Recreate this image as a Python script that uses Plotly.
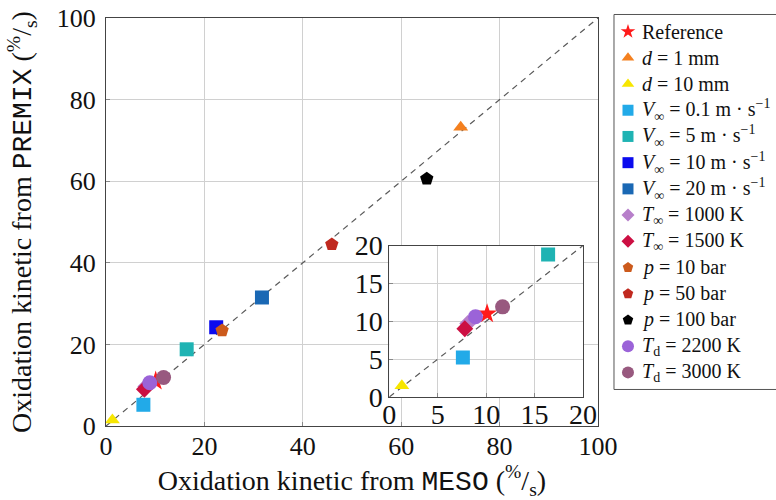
import plotly.graph_objects as go

# ---------------- data ----------------
series_names = [
    "Reference",
    "<i>d</i> = 1 mm",
    "<i>d</i> = 10 mm",
    "<i>V</i><sub>∞</sub> = 0.1 m · s<sup>−1</sup>",
    "<i>V</i><sub>∞</sub> = 5 m · s<sup>−1</sup>",
    "<i>V</i><sub>∞</sub> = 10 m · s<sup>−1</sup>",
    "<i>V</i><sub>∞</sub> = 20 m · s<sup>−1</sup>",
    "<i>T</i><sub>∞</sub> = 1000 K",
    "<i>T</i><sub>∞</sub> = 1500 K",
    "<i>p</i> = 10 bar",
    "<i>p</i> = 50 bar",
    "<i>p</i> = 100 bar",
    "<i>T</i><sub>d</sub> = 2200 K",
    "<i>T</i><sub>d</sub> = 3000 K",
]
meso_values = [10.1, 72.1, 1.3, 7.6, 16.4, 22.4, 31.7, 8.1, 7.8, 23.6, 45.9, 65.2, 8.9, 11.7]
premix_values = [11.0, 73.2, 1.5, 5.2, 18.8, 24.2, 31.5, 9.7, 9.0, 23.4, 44.5, 60.6, 10.6, 11.9]

symbols = ["star", "triangle-up", "triangle-up", "square", "square", "square", "square",
           "diamond", "diamond", "pentagon", "pentagon", "pentagon", "circle", "circle"]
colors = ["#ff1a1a", "#f4801f", "#f7e600", "#22aae8", "#1fb3b3", "#0b0bee", "#1a68b4",
          "#b77fca", "#cc0f42", "#cc5a1c", "#c0291f", "#000000", "#9b63d8", "#98597f"]
plot_sizes = [15, 13, 13, 14, 14, 14, 14, 13, 13, 14, 14, 14, 15, 15]
legend_sizes = [11, 11, 11, 11, 11, 11, 11, 10, 10, 11, 11, 11, 12, 12]

diag_main = [0, 100]
diag_inset = [0, 20]
main_ticks = [0, 20, 40, 60, 80, 100]
inset_ticks = [0, 5, 10, 15, 20]

x_title = ("Oxidation kinetic from <span style='font-family:Liberation Mono'>MESO</span> "
           "(<sup>%</sup>/<sub>s</sub>)")
y_title = ("Oxidation kinetic from <span style='font-family:Liberation Mono'>PREMIX</span> "
           "(<sup>%</sup>/<sub>s</sub>)")

SERIF = "Liberation Serif"
legend_rows = list(range(len(series_names)))

fig = go.Figure()

# diagonal lines
fig.add_trace(go.Scatter(x=diag_main, y=diag_main, mode="lines", showlegend=False,
                         line=dict(color="#5a5a5a", width=1.2, dash="6px,5px"),
                         xaxis="x", yaxis="y", hoverinfo="skip"))
fig.add_trace(go.Scatter(x=diag_inset, y=diag_inset, mode="lines", showlegend=False,
                         line=dict(color="#5a5a5a", width=1.2, dash="6px,5px"),
                         xaxis="x2", yaxis="y2", hoverinfo="skip"))

for i, name in enumerate(series_names):
    mk = dict(symbol=symbols[i], color=colors[i], size=plot_sizes[i], opacity=1,
              line=dict(width=0))
    fig.add_trace(go.Scatter(x=[meso_values[i]], y=[premix_values[i]], mode="markers",
                             marker=mk, name=name, showlegend=False, xaxis="x", yaxis="y"))
    fig.add_trace(go.Scatter(x=[meso_values[i]], y=[premix_values[i]], mode="markers",
                             marker=mk, name=name, showlegend=False, xaxis="x2", yaxis="y2"))

# legend (custom, on a hidden axis: one row per series)
fig.add_trace(go.Scatter(x=[14] * len(legend_rows), y=legend_rows, mode="markers",
                         marker=dict(symbol=symbols, color=colors, size=legend_sizes,
                                     opacity=1, line=dict(width=0)),
                         showlegend=False, xaxis="x3", yaxis="y3", hoverinfo="skip",
                         cliponaxis=False))
annotations = []
for i, name in zip(legend_rows, series_names):
    annotations.append(dict(text=name, x=26, y=i, xref="x3", yref="y3",
                            xanchor="left", yanchor="middle", showarrow=False,
                            font=dict(family=SERIF, size=20, color="#111111")))

axis_common = dict(showline=True, mirror=True, linecolor="#444444", linewidth=1,
                   showgrid=True, gridcolor="#d0d0d0", gridwidth=1, zeroline=False,
                   ticks="inside", ticklen=4, tickcolor="#888888")

fig.update_layout(
    width=776, height=500,
    margin=dict(l=106, r=0, t=18, b=74, autoexpand=False),
    paper_bgcolor="white", plot_bgcolor="white",
    font=dict(family=SERIF, color="#111111"),
    xaxis=dict(range=[0, 100], tickvals=main_ticks, domain=[0, 0.7343], anchor="y",
               tickfont=dict(family=SERIF, size=26, color="#111111"),
               ticklabelstandoff=-3,
               title=dict(text=x_title, font=dict(family=SERIF, size=28), standoff=4),
               **axis_common),
    yaxis=dict(range=[0, 100], tickvals=main_ticks, domain=[0, 1], anchor="x",
               tickfont=dict(family=SERIF, size=26, color="#111111"),
               ticklabelstandoff=4,
               title=dict(text=y_title, font=dict(family=SERIF, size=28), standoff=16),
               **axis_common),
    xaxis2=dict(range=[0, 20], tickvals=inset_ticks, domain=[0.4228, 0.7119], anchor="y2",
                tickfont=dict(family=SERIF, size=28, color="#111111"),
                ticklabelstandoff=-8,
                **axis_common),
    yaxis2=dict(range=[0, 20], tickvals=inset_ticks, domain=[0.0711, 0.4424], anchor="x2",
                tickfont=dict(family=SERIF, size=28, color="#111111"),
                ticklabelstandoff=0,
                **axis_common),
    xaxis3=dict(range=[0, 162], domain=[0.7582, 1.0], anchor="y3", visible=False,
                fixedrange=True),
    yaxis3=dict(range=[13.5, -0.5], domain=[0.0993, 0.9988], anchor="x3", visible=False,
                fixedrange=True),
    shapes=[
        dict(type="rect", xref="x2 domain", yref="y2 domain", x0=0, x1=1, y0=0, y1=1,
             fillcolor="#ebebf9", line=dict(width=0), layer="below"),
        dict(type="rect", xref="paper", yref="paper", x0=0.7582, x1=1.02,
             y0=0.0895, y1=1.0086, line=dict(color="#555555", width=1),
             fillcolor="rgba(0,0,0,0)", layer="above"),
    ],
    annotations=annotations,
    showlegend=False,
)

fig.write_html("out.html", config={"displayModeBar": False},
               post_script="document.body.style.margin='0';document.body.style.overflow='hidden';")
